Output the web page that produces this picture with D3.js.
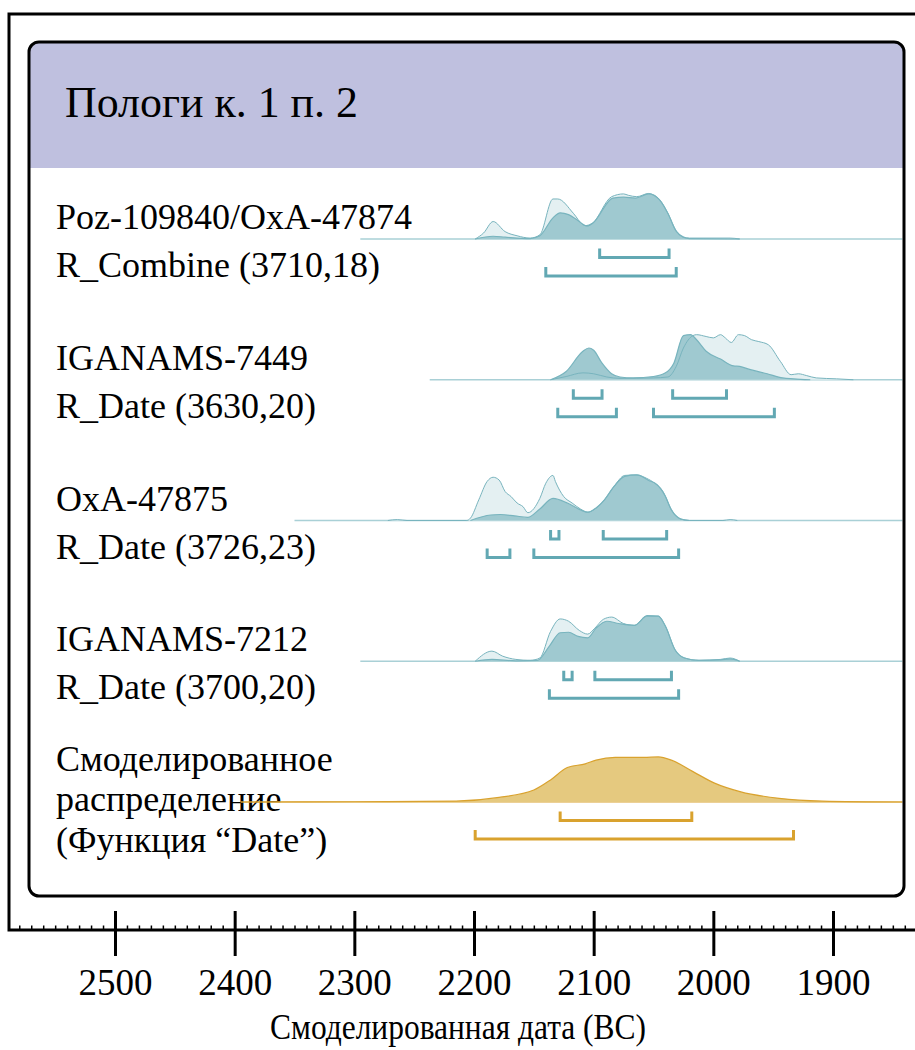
<!DOCTYPE html>
<html><head><meta charset="utf-8">
<script src="https://cdn.jsdelivr.net/npm/d3@7/dist/d3.min.js"></script>
<style>
body{margin:0;background:#fff}
svg{display:block}
text{font-family:"Liberation Serif","Times New Roman",serif;fill:#000}
</style>
</head><body>
<svg id="chart" width="915" height="1050"></svg>
<script>
// ---------- DATA ----------
const chartTitle = "Пологи к. 1 п. 2";
const axisTitle = "Смоделированная дата (BC)";
const majorTicks = [2500, 2400, 2300, 2200, 2100, 2000, 1900];
const minorStep = 10;

const labels = [
  ["Poz-109840/OxA-47874", "R_Combine (3710,18)"],
  ["IGANAMS-7449", "R_Date (3630,20)"],
  ["OxA-47875", "R_Date (3726,23)"],
  ["IGANAMS-7212", "R_Date (3700,20)"],
  ["Смоделированное", "распределение", "(Функция “Date”)"]
];

// plotted span (years BC) of each distribution's baseline
const spans = [[2295, 1842], [2237, 1842], [2350, 1842], [2295, 1842], [2395, 1842]];

// [year BC, relative probability %]
const unmodelled1 = [[2199,0],[2192,13],[2184,38],[2174,16],[2164,7],[2153,2],[2145,9],[2134,87],[2130,87],[2117,56],[2109,31],[2105,28],[2101,34],[2085,92],[2075,98],[2071,95],[2064,92],[2054,99],[2050,96],[2045,86],[2038,56],[2031,17],[2025,4],[2020,2],[1986,2],[1978,0]];
const modelled1 = [[2199,0],[2184,6],[2174,4],[2153,1],[2145,7],[2134,46],[2128,57],[2121,53],[2114,42],[2106,29],[2101,34],[2084,89],[2075,91],[2065,89],[2054,98],[2045,85],[2038,56],[2031,17],[2025,4],[2020,1],[1978,0]];

const unmodelled2 = [[2136,0],[2123,7],[2109,15],[2100,13],[2089,6],[2078,3],[2050,4],[2038,6],[2031,29],[2025,69],[2017,96],[2014,98],[2006,94],[2000,91],[1994,98],[1990,91],[1985,81],[1979,98],[1974,96],[1968,87],[1962,83],[1954,76],[1944,40],[1935,11],[1929,13],[1922,9],[1914,4],[1897,2],[1883,0]];
const modelled2 = [[2136,0],[2123,18],[2109,62],[2104,69],[2100,64],[2093,36],[2085,13],[2078,6],[2067,4],[2050,7],[2040,15],[2033,36],[2025,96],[2019,98],[2014,87],[2006,62],[1994,45],[1983,30],[1978,29],[1969,22],[1955,13],[1942,4],[1933,2],[1919,0]];

const unmodelled3 = [[2272,0],[2264,2],[2256,0],[2206,0],[2203,5],[2196,45],[2189,85],[2184,94],[2179,88],[2174,63],[2169,52],[2164,38],[2159,30],[2155,17],[2145,48],[2140,81],[2134,98],[2132,85],[2125,52],[2118,38],[2111,25],[2105,18],[2098,27],[2091,45],[2083,74],[2074,98],[2064,99],[2056,92],[2049,81],[2042,63],[2035,23],[2027,3],[2020,0],[1992,0],[1986,2],[1980,0]];
const modelled3 = [[2203,0],[2186,12],[2178,13],[2166,10],[2155,7],[2145,25],[2134,48],[2122,38],[2111,23],[2105,18],[2098,27],[2091,45],[2083,74],[2074,96],[2064,99],[2054,87],[2047,78],[2040,52],[2035,23],[2027,3],[2020,0]];

const unmodelled4 = [[2199,0],[2185,22],[2176,11],[2165,4],[2153,2],[2145,7],[2136,65],[2128,92],[2121,87],[2112,67],[2105,59],[2099,72],[2092,91],[2085,96],[2075,82],[2066,78],[2056,98],[2046,98],[2040,76],[2032,25],[2024,7],[2012,2],[1994,4],[1986,7],[1978,0]];
const modelled4 = [[2199,0],[2185,4],[2165,1],[2147,2],[2137,33],[2128,62],[2121,63],[2113,54],[2105,51],[2098,72],[2089,87],[2079,82],[2066,78],[2055,99],[2046,98],[2040,76],[2032,25],[2024,7],[2012,2],[1994,3],[1986,5],[1978,0]];

const modelledDate = [[2395,0],[2300,0.5],[2215,2],[2179,10],[2150,26],[2136,48],[2122,75],[2107,83],[2098,91],[2082,97],[2058,97],[2046,98],[2035,91],[2017,66],[1999,41],[1977,22],[1945,8],[1909,2],[1842,0]];

// highest-density ranges [from, to] (years BC): 68.3% and 95.4%
const hpd68 = [[[2095,2037]], [[2117,2093],[2034,1989]], [[2136,2129],[2092,2039]], [[2125,2118],[2099,2035]], [[2128,2018]]];
const hpd95 = [[[2140,2031]], [[2130,2081],[2050,1949]], [[2189,2170],[2150,2029]], [[2137,2029]], [[2199,1933]]];

const unmodelled = [unmodelled1, unmodelled2, unmodelled3, unmodelled4, null];
const modelled = [modelled1, modelled2, modelled3, modelled4, modelledDate];

// ---------- DRAWING ----------
const svg = d3.select("#chart");
const W = 915, H = 1050;
const frame = {left: 9, top: 14, axisY: 930};
const box = {x: 29, y: 42, w: 875, h: 854, r: 10, headerH: 126};

const x = d3.scaleLinear().domain([2500, 1900]).range([115, 833]);
const y = d3.scaleLinear().domain([0, 100]).range([0, 46]);

const rowBase = i => 239 + 140.75 * i;

const teal = {light: "#e4f0f2", dark: "#9fc9d0", stroke: "#78b4be", base: "#a9d0d6", bracket: "#62a8b3"};
const gold = {fill: "#e5c97f", stroke: "#d9a22e"};

// inner box
svg.append("rect").attr("x", box.x).attr("y", box.y).attr("width", box.w).attr("height", box.h)
  .attr("rx", box.r).attr("fill", "#fff");
const r = box.r;
svg.append("path")
  .attr("d", `M${box.x},${box.y + box.headerH} V${box.y + r} Q${box.x},${box.y} ${box.x + r},${box.y} H${box.x + box.w - r} Q${box.x + box.w},${box.y} ${box.x + box.w},${box.y + r} V${box.y + box.headerH} Z`)
  .attr("fill", "#bfc0df");
svg.append("text").attr("x", 65).attr("y", 117).attr("font-size", 44)
  .attr("textLength", 293).attr("lengthAdjust", "spacingAndGlyphs").text(chartTitle);

const gRows = svg.append("g");

labels.forEach((lines, i) => {
  const b = rowBase(i);
  const g = gRows.append("g").attr("transform", `translate(0,${b})`);
  const isModel = i === 4;
  const area = d3.area().x(d => x(d[0])).y0(0).y1(d => -y(d[1])).curve(d3.curveMonotoneX);
  const line = d3.line().x(d => x(d[0])).y(d => -y(d[1])).curve(d3.curveMonotoneX);

  // labels
  const offs = isModel ? [-31, 9, 50] : [-10, 38];
  lines.forEach((t, j) => {
    g.append("text").attr("x", 56).attr("y", offs[j]).attr("font-size", 36).text(t);
  });

  // baseline
  g.append("line").attr("x1", x(spans[i][0])).attr("x2", x(spans[i][1]))
    .attr("y1", 0).attr("y2", 0)
    .attr("stroke", isModel ? gold.stroke : teal.base).attr("stroke-width", isModel ? 1.2 : 1.5);

  if (!isModel) {
    g.append("path").datum(unmodelled[i]).attr("d", area).attr("fill", teal.light);
    g.append("path").datum(modelled[i]).attr("d", area).attr("fill", teal.dark);
    g.append("path").datum(unmodelled[i]).attr("d", line).attr("fill", "none")
      .attr("stroke", teal.stroke).attr("stroke-width", 1);
    g.append("path").datum(modelled[i]).attr("d", line).attr("fill", "none")
      .attr("stroke", teal.stroke).attr("stroke-width", 1.2);
  } else {
    g.append("path").datum(modelled[i]).attr("d", area).attr("fill", gold.fill);
    g.append("path").datum(modelled[i]).attr("d", line).attr("fill", "none")
      .attr("stroke", gold.stroke).attr("stroke-width", 1.2);
  }

  // HPD brackets
  const bc = isModel ? gold.stroke : teal.bracket;
  const br = (ranges, top) => ranges.forEach(([a, c]) => {
    const x1 = x(a), x2 = x(c);
    g.append("path")
      .attr("d", `M${x1},${top} V${top + 9} H${x2} V${top}`)
      .attr("fill", "none").attr("stroke", bc).attr("stroke-width", 3).attr("stroke-linejoin", "miter");
  });
  br(hpd68[i], 9.5);
  br(hpd95[i], 28);
});

// inner box outline
svg.append("rect").attr("x", box.x).attr("y", box.y).attr("width", box.w).attr("height", box.h)
  .attr("rx", box.r).attr("fill", "none").attr("stroke", "#000").attr("stroke-width", 3);

// outer frame (top, left, and axis line)
svg.append("path").attr("d", `M${W},${frame.top} H${frame.left} V${frame.axisY} H${W}`)
  .attr("fill", "none").attr("stroke", "#000").attr("stroke-width", 3);

// minor ticks
const minorTicks = d3.range(2580, 1830, -minorStep).filter(v => !majorTicks.includes(v) && x(v) > frame.left + 2 && x(v) < W);
const minorAxis = d3.axisBottom(x).tickValues(minorTicks).tickSizeInner(-4).tickSizeOuter(0).tickFormat("");
const gMinor = svg.append("g").attr("transform", `translate(0,${frame.axisY})`).call(minorAxis);
gMinor.select(".domain").remove();
gMinor.selectAll(".tick line").attr("stroke", "#000").attr("stroke-width", 1.5).attr("y2", -4.5);

// major ticks
const majorAxis = d3.axisBottom(x).tickValues(majorTicks).tickSizeInner(26).tickSizeOuter(0).tickPadding(13).tickFormat(d3.format("d"));
const gMajor = svg.append("g").attr("transform", `translate(0,${frame.axisY})`).call(majorAxis);
gMajor.select(".domain").remove();
gMajor.selectAll(".tick line").attr("stroke", "#000").attr("stroke-width", 3).attr("y1", -19);
gMajor.selectAll(".tick text").attr("font-size", 37).attr("font-family", '"Liberation Serif","Times New Roman",serif').attr("fill", "#000");

svg.append("text").attr("x", 458).attr("y", 1039).attr("text-anchor", "middle").attr("font-size", 36)
  .attr("textLength", 376).attr("lengthAdjust", "spacingAndGlyphs").text(axisTitle);
</script>
</body></html>
